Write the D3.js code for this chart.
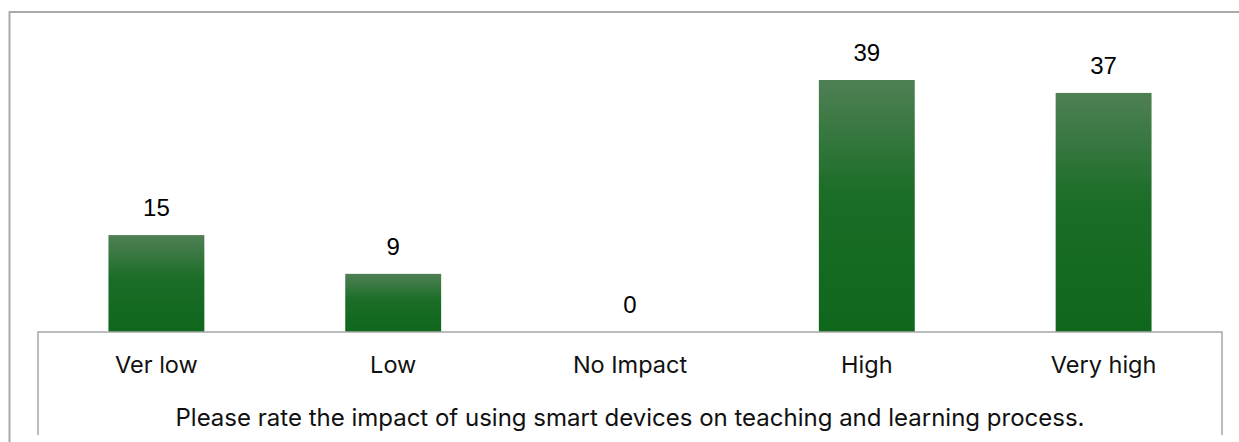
<!DOCTYPE html>
<html>
<head>
<meta charset="utf-8">
<script src="https://cdn.jsdelivr.net/npm/d3@7"></script>
<style>
  body { margin: 0; background: #fff; }
  .value { font-family: "Liberation Sans", Arial, sans-serif; font-size: 24px; fill: #000; }
  .cat { font-family: "Inter", "Noto Sans", sans-serif; font-size: 23.5px; fill: #111; }
  .title { font-family: "Inter", "Noto Sans", sans-serif; font-size: 24px; fill: #111; }
</style>
</head>
<body>
<div id="chart"></div>
<script>
(function (d3) {

    var categories = ['Ver low', 'Low', 'No Impact', 'High', 'Very high'];
    var counts = [15, 9, 0, 39, 37];
    var axisTitle = 'Please rate the impact of using smart devices on teaching and learning process.';

    var width = 1239,
        height = 442;

    var baseY = 332,
        left = 38,
        right = 1222;

    var svg = d3.select('#chart')
        .append('svg')
        .attr('width', width)
        .attr('height', height);

    var grad = svg.append('defs')
        .append('linearGradient')
        .attr('id', 'barFill')
        .attr('x1', 0).attr('y1', 0)
        .attr('x2', 0).attr('y2', 1);
    grad.append('stop').attr('offset', '0%').attr('stop-color', '#4f8055');
    grad.append('stop').attr('offset', '45%').attr('stop-color', '#1b6d27');
    grad.append('stop').attr('offset', '100%').attr('stop-color', '#0f671c');

    // outer frame (runs past the right and bottom edge)
    svg.append('rect')
        .attr('x', 9.5)
        .attr('y', 12)
        .attr('width', 1260)
        .attr('height', 460)
        .attr('fill', 'none')
        .attr('stroke', '#aaaaaa')
        .attr('stroke-width', 2);

    var xScale = d3.scaleBand()
        .domain(categories)
        .range([left, right])
        .paddingInner(0.595)
        .paddingOuter(0.2975);

    var yScale = d3.scaleLinear()
        .domain([0, 39])
        .range([baseY, 80]);

    svg.append('g')
        .selectAll('rect')
        .data(categories)
        .enter()
        .append('rect')
        .attr('x', function (d) { return xScale(d); })
        .attr('y', function (d, i) { return yScale(counts[i]); })
        .attr('width', xScale.bandwidth())
        .attr('height', function (d, i) { return baseY - yScale(counts[i]); })
        .attr('fill', 'url(#barFill)');

    svg.append('g')
        .selectAll('text')
        .data(categories)
        .enter()
        .append('text')
        .attr('class', 'value')
        .attr('text-anchor', 'middle')
        .attr('x', function (d) { return xScale(d) + xScale.bandwidth() / 2; })
        .attr('y', function (d, i) { return yScale(counts[i]) - 19; })
        .text(function (d, i) { return counts[i]; });

    // axis box: baseline plus the two side walls
    var axisBox = svg.append('g')
        .attr('fill', 'none')
        .attr('stroke', '#a6a6a6')
        .attr('stroke-width', 1.5);
    axisBox.append('path')
        .attr('d', 'M' + left + ',435V' + baseY + 'H' + right + 'V435');

    svg.append('g')
        .selectAll('text')
        .data(categories)
        .enter()
        .append('text')
        .attr('class', 'cat')
        .attr('text-anchor', 'middle')
        .attr('x', function (d) { return xScale(d) + xScale.bandwidth() / 2; })
        .attr('y', 373)
        .text(function (d) { return d; });

    svg.append('text')
        .attr('class', 'title')
        .attr('text-anchor', 'middle')
        .attr('x', (left + right) / 2)
        .attr('y', 426)
        .text(axisTitle);

})(d3);
</script>
</body>
</html>
